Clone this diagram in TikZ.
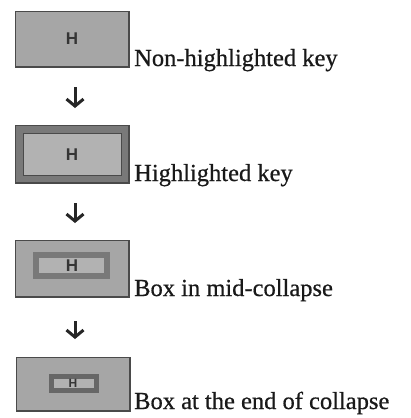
\documentclass[tikz,border=0pt]{standalone}
\usepackage{fontspec}
\setmainfont{Liberation Serif}
\newfontfamily\capfont[FakeBold=0.6]{Liberation Serif}
\newfontfamily\keyfont{Liberation Sans}
\usetikzlibrary{arrows.meta}
\definecolor{keyfill}{HTML}{A6A6A6}
\definecolor{keyedge}{HTML}{4A4A4A}
\definecolor{bandcol}{HTML}{797979}
\definecolor{innerfill}{HTML}{B2B2B2}
\definecolor{hcol}{HTML}{353535}
\tikzset{
  keybox/.style={fill=keyfill, draw=keyedge, line width=0.9pt},
  keyshadow/.style={draw=keyedge, line width=2pt},
  hlabel/.style={font=\keyfont\bfseries\fontsize{17}{17}\selectfont, text=hcol, inner sep=0pt},
  hsmall/.style={font=\keyfont\bfseries\fontsize{12}{12}\selectfont, text=hcol, inner sep=0pt},
  caption/.style={font=\capfont\fontsize{24.5}{25}\selectfont, anchor=base west, inner sep=0pt, text=black!90},
  flow/.style={line width=3pt, -{Straight Barb[length=7pt, width=17pt, line width=3pt]}, black!85}
}
\begin{document}
\begin{tikzpicture}[x=1pt, y=-1pt]
\useasboundingbox (0,0) rectangle (411,418);
\fill[white] (0,0) rectangle (411,418);

% Box 1: non-highlighted
\draw[keybox] (15,11) rectangle (129,67);
\draw[keyshadow] (15,67) -- (129,67) -- (129,11);
\node[hlabel] (h1) at (72,39) {H};
\node[caption] (t1) at (134,66) {Non-highlighted key};

\coordinate (a1s) at (75,87);
\coordinate (a1e) at (75,108);
\draw[flow] (a1s) -- (a1e);

% Box 2: highlighted
\draw[keybox] (15,125) rectangle (129,183);
\fill[bandcol] (16,126) rectangle (128,182);
\draw[keyedge, line width=0.8pt, fill=innerfill] (23,133) rectangle (121,175);
\draw[keyshadow] (15,183) -- (129,183) -- (129,125);
\node[hlabel] (h2) at (72,155) {H};
\node[caption] (t2) at (134,181) {Highlighted key};

\coordinate (a2s) at (75,203);
\coordinate (a2e) at (75,223);
\draw[flow] (a2s) -- (a2e);

% Box 3: mid-collapse
\draw[keybox] (15,240) rectangle (129,297);
\draw[keyshadow] (15,297) -- (129,297) -- (129,240);
\draw[bandcol, line width=6pt, fill=innerfill] (36,255) rectangle (107,276);
\node[hlabel] (h3) at (72,266) {H};
\node[caption] (t3) at (134,296) {Box in mid-collapse};

\coordinate (a3s) at (75,321);
\coordinate (a3e) at (75,339);
\draw[flow] (a3s) -- (a3e);

% Box 4: end of collapse
\draw[keybox] (16,357) rectangle (130,411);
\draw[keyshadow] (16,411) -- (130,411) -- (130,357);
\draw[bandcol!85!black, line width=5pt, fill=innerfill] (51,376) rectangle (96,390);
\node[hsmall] (h4) at (73,383) {H};
\node[caption] (t4) at (134,409) {Box at the end of collapse};
\end{tikzpicture}
\end{document}
